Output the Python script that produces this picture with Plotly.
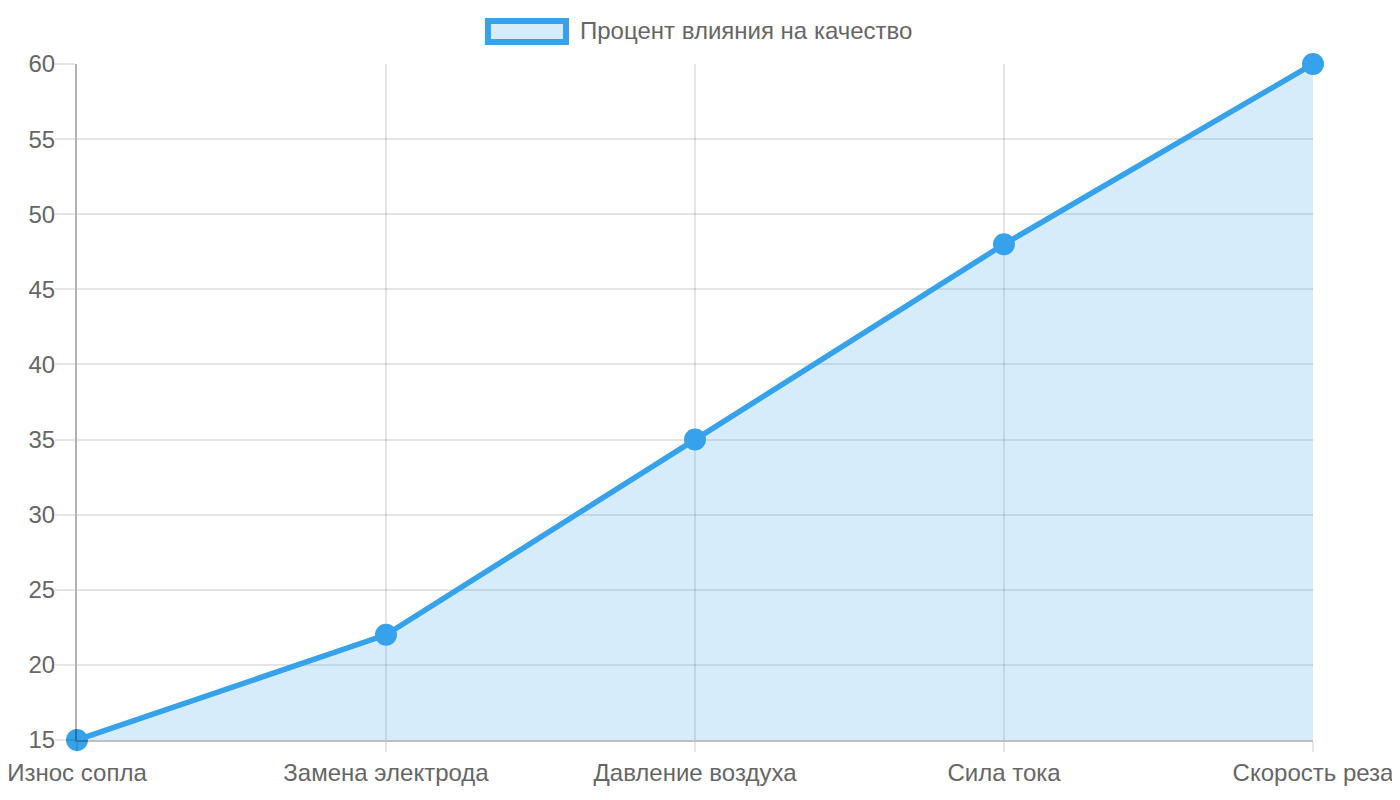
import plotly.graph_objects as go

categories = ["Износ сопла", "Замена электрода", "Давление воздуха", "Сила тока", "Скорость реза"]
values = [15, 22, 35, 48, 60]
series_name = "Процент влияния на качество"
y_ticks = [15, 20, 25, 30, 35, 40, 45, 50, 55, 60]

W, H = 1400, 800
OFF = 8  # default page body margin in the written html
# target plot area in screen pixels: x 77..1313, y 64..740
L = 77 - OFF
T = 64 - OFF
R = (W + OFF) - 1313
B = (H + OFF) - 740
FONT = "Liberation Sans, Arial, sans-serif"
TXT = "#666666"
BLUE = "#36a2eb"
FILL = "rgba(54,162,235,0.2)"
GRID = "rgba(0,0,0,0.1)"

x_idx = list(range(len(categories)))

fig = go.Figure()
fig.add_trace(go.Scatter(
    x=x_idx, y=values, mode="lines+markers", name=series_name,
    line=dict(color=BLUE, width=5.5),
    marker=dict(color=BLUE, size=22, line=dict(width=0)),
    fill="tozeroy", fillcolor=FILL, cliponaxis=False, showlegend=False,
))

pw = W - L - R
ph = H - T - B
def px(xs):
    return (xs - OFF - L) / pw
def py(ys):
    return (H - B - (ys - OFF)) / ph

# custom legend (Chart.js style box)
fig.add_shape(type="rect", xref="paper", yref="paper",
              x0=px(488), x1=px(566), y0=py(42), y1=py(21),
              line=dict(color=BLUE, width=6), fillcolor="#d7ecfb", layer="above")
fig.add_annotation(xref="paper", yref="paper", x=px(578), y=py(31),
                   text=series_name, showarrow=False, xanchor="left", yanchor="middle",
                   font=dict(family=FONT, size=24, color=TXT))

fig.update_layout(
    width=W, height=H, margin=dict(l=L, r=R, t=T, b=B, autoexpand=False),
    paper_bgcolor="white", plot_bgcolor="white",
    font=dict(family=FONT, size=24, color=TXT),
    xaxis=dict(range=[0, len(categories) - 1], tickvals=x_idx, ticktext=categories,
               showgrid=True, gridcolor=GRID, gridwidth=1.5,
               ticks="outside", ticklen=10, tickcolor=GRID, tickwidth=1.5,
               showline=True, linecolor="rgba(0,0,0,0.25)", linewidth=1.5,
               ticklabeloverflow="allow",
               zeroline=False, fixedrange=True),
    yaxis=dict(range=[15, 60], tickvals=y_ticks,
               showgrid=True, gridcolor=GRID, gridwidth=1.5,
               ticks="outside", ticklen=20, tickcolor=GRID, tickwidth=1.5,
               showline=True, linecolor="rgba(0,0,0,0.3)", linewidth=2,
               ticklabelstandoff=-5, ticklabeloverflow="allow",
               zeroline=False, fixedrange=True),
    showlegend=False,
)

fig.write_html("out.html")
